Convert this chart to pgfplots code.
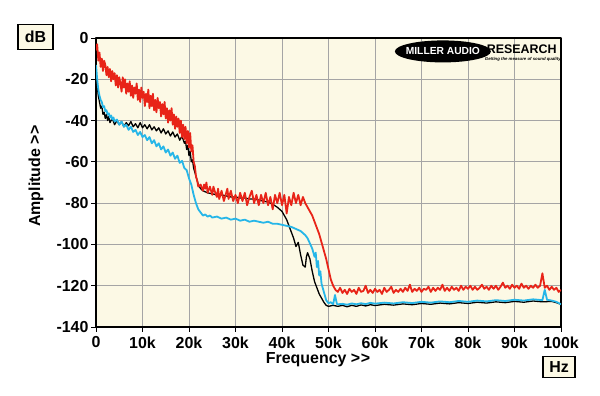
\documentclass[border=0pt]{standalone}
\usepackage{fontspec}
\setmainfont{Liberation Sans}
\usepackage{pgfplots}
\pgfplotsset{compat=1.18}
\definecolor{cream}{RGB}{252,249,229}
\definecolor{mred}{RGB}{232,36,24}
\definecolor{mblue}{RGB}{38,182,232}
\definecolor{gridc}{RGB}{165,165,165}
\newcommand{\lf}{\fontsize{16}{18}\selectfont\bfseries}
\newcommand{\twogt}{>\kern0.6bp>}
\begin{document}
\begin{tikzpicture}
\useasboundingbox (0,0) rectangle (600bp,396bp);
\begin{axis}[
  at={(96bp,69bp)}, anchor=south west,
  scale only axis, width=465bp, height=289bp,
  xmin=0, xmax=100, ymin=-140, ymax=0,
  xtick={0,10,...,100},
  xticklabels={0,10k,20k,30k,40k,50k,60k,70k,80k,90k,100k},
  ytick={-140,-120,...,0},
  yticklabels={-140,-120,-100,-80,-60,-40,-20,0},
  tick label style={font=\lf},
  xticklabel style={yshift=-1bp},
  yticklabel style={xshift=1bp},
  tick align=outside, major tick length=5bp,
  tick style={black, line width=0.8bp},
  xtick pos=bottom, ytick pos=left,
  grid=major, major grid style={gridc, line width=0.9bp},
  axis background/.style={fill=cream},
  axis line style={black, line width=1.6bp},
  line join=round,
]
\addplot[black, line width=1.3bp] coordinates {
(0,-18) (0.25,-23) (0.5,-28) (0.75,-31) (1,-34) (1.25,-33) (1.5,-37) (1.75,-36) (2,-39) (2.25,-37) (2.5,-40) (2.75,-38) (3,-41) (3.5,-39) (4,-42) (4.5,-40) (5,-42) (5.5,-40.5) (6,-43) (6.5,-41) (7,-42.5) (7.5,-40.5) (8,-43) (8.5,-41.5) (9,-43.5) (9.5,-41) (10,-43.5) (10.5,-42) (11,-44) (11.5,-42) (12,-44.5) (12.5,-43) (13,-45) (13.5,-43.5) (14,-46) (14.5,-44) (15,-46.5) (15.5,-45) (16,-47.5) (16.5,-45.5) (17,-48) (17.5,-46.5) (18,-49.5) (18.5,-47.5) (19,-51) (19.25,-50) (19.5,-54) (19.75,-52) (20,-57) (20.25,-55) (20.5,-60) (20.75,-59) (21,-63) (21.5,-67) (22,-71) (22.5,-73) (23,-74) (24,-75) (25,-75.5) (26,-76) (27,-76) (28,-76.5) (29,-77) (30,-77) (31,-77.5) (32,-77.5) (33,-78) (34,-78) (35,-78.5) (36,-79) (37,-79.5) (38,-80.5) (39,-82) (40,-84) (40.5,-86) (41,-88) (41.5,-91) (42,-94) (42.5,-97) (43,-101) (43.5,-99) (44,-105) (44.5,-110) (45,-111) (45.25,-106) (45.5,-104) (46,-107) (46.5,-113) (47,-118) (47.5,-121) (48,-124) (48.5,-126) (49,-128) (49.5,-129.5) (50,-130)
(51,-129.5) (52,-130) (53,-129.5) (54,-130.2) (55,-129.5) (56,-130) (57,-129.3) (58,-129.8) (59,-129.2) (60,-129.6) (62,-129) (64,-129.4) (66,-128.8) (68,-129.2) (70,-128.6) (72,-129) (74,-128.4) (76,-128.8) (78,-128.2) (80,-128.6) (82,-128) (84,-128.4) (86,-127.8) (88,-128.2) (90,-127.6) (92,-128) (94,-127.4) (96,-127.8) (98,-127.6) (99,-128.2) (100,-129)
};
\addplot[mblue, line width=1.8bp] coordinates {
(0,-13) (0.25,-20) (0.5,-25) (0.75,-28) (1,-30) (1.25,-31) (1.5,-33.5) (1.75,-33) (2,-35.5) (2.25,-35) (2.5,-37) (2.75,-36.5) (3,-38.5) (3.25,-37.5) (3.5,-39.5) (3.75,-38.5) (4,-40.5) (4.5,-39.5) (5,-42) (5.5,-40.5) (6,-43) (6.5,-42) (7,-44.5) (7.5,-43) (8,-45.5) (8.5,-44.5) (9,-47) (9.5,-45.5) (10,-48) (10.5,-47) (11,-49.5) (11.5,-48) (12,-51) (12.5,-49.5) (13,-52.5) (13.5,-51) (14,-54) (14.5,-52.5) (15,-55.5) (15.5,-54) (16,-57) (16.5,-55.5) (17,-58.5) (17.5,-57) (18,-60.5) (18.5,-59.5) (19,-63) (19.5,-64) (20,-68) (20.5,-71) (21,-76) (21.5,-80) (22,-83) (22.5,-84.5) (23,-86) (23.5,-85.5) (24,-86.5) (24.5,-86) (25,-87) (26,-86.5) (27,-87.5) (28,-87) (29,-88) (30,-87.5) (31,-88.5) (32,-88) (33,-89) (34,-88.5) (35,-89) (36,-89.5) (37,-89) (38,-90) (39,-90) (40,-90.5) (41,-91) (42,-91.5) (43,-92.5) (44,-93.5) (45,-95.5) (45.5,-97) (46,-99.5) (46.5,-102) (47,-106) (47.25,-104) (47.5,-111) (47.75,-108) (48,-115) (48.25,-113) (48.5,-119) (49,-123) (49.5,-127) (50,-128.5) (50.5,-128) (51,-129) (51.4,-124.5) (51.8,-128.8) (52,-129) (53,-128.8) (54,-129.2) (55,-128.6) (56,-129) (57,-128.5) (58,-128.9) (59,-128.3) (60,-128.7) (62,-128.2) (64,-128.6) (66,-128) (68,-128.4) (70,-127.8) (72,-128.2) (74,-127.6) (76,-128) (78,-127.4) (80,-127.8) (82,-127.2) (84,-127.6) (86,-127) (88,-127.4) (90,-126.8) (92,-127.2) (94,-126.6) (96,-127) (96.5,-122) (97,-126.8) (98,-127.2) (99,-127.8) (100,-129)
};
\addplot[mred, line width=1.8bp] coordinates {
(0,-6) (0.25,-3) (0.5,-11) (0.75,-7) (1,-14) (1.25,-10) (1.5,-16) (1.75,-11) (2,-13) (2.25,-18) (2.5,-14) (2.75,-19) (3,-15) (3.25,-21) (3.5,-16) (3.75,-20) (4,-17) (4.25,-23) (4.5,-18) (4.75,-24) (5,-19) (5.25,-22) (5.5,-26) (5.75,-19) (6,-24) (6.25,-20) (6.5,-27) (6.75,-22) (7,-26) (7.25,-21) (7.5,-28) (7.75,-23) (8,-29) (8.25,-24) (8.5,-27) (8.75,-22) (9,-30) (9.25,-25) (9.5,-31) (9.75,-24) (10,-29) (10.25,-26) (10.5,-33) (10.75,-27) (11,-31) (11.25,-25) (11.5,-34) (11.75,-28) (12,-33) (12.25,-27) (12.5,-35) (12.75,-30) (13,-36) (13.25,-29) (13.5,-34) (13.75,-31) (14,-38) (14.25,-32) (14.5,-37) (14.75,-31) (15,-39) (15.25,-34) (15.5,-41) (15.75,-35) (16,-40) (16.25,-34) (16.5,-42) (16.75,-37) (17,-44) (17.25,-38) (17.5,-43) (17.75,-39) (18,-46) (18.25,-40) (18.5,-48) (18.75,-42) (19,-49) (19.25,-43) (19.5,-51) (19.75,-45) (20,-53) (20.25,-46) (20.5,-55) (20.75,-52) (21,-60) (21.25,-62) (21.5,-67) (21.75,-69) (22,-72) (22.5,-71)
(23,-74) (23.25,-71) (23.5,-73) (23.75,-70) (24,-75) (24.5,-72) (25,-76) (25.25,-72) (25.5,-74) (26,-77) (26.25,-73) (26.5,-78) (27,-74) (27.5,-79) (28,-75) (28.25,-73) (28.5,-78) (29,-74) (29.5,-79) (30,-76) (30.5,-80) (31,-75) (31.25,-77) (31.5,-79) (32,-75) (32.5,-81) (33,-77) (33.5,-74) (34,-80) (34.5,-76) (35,-81) (35.5,-76) (36,-80) (36.5,-75) (37,-81) (37.5,-77) (38,-83) (38.5,-76) (39,-80) (39.5,-75) (40,-81) (40.5,-76) (41,-85) (41.5,-77) (42,-81) (42.5,-75) (43,-80) (43.5,-76) (44,-81) (44.5,-77) (45,-80)
(45.5,-82) (46,-84) (46.5,-86) (47,-89) (47.5,-92) (48,-95) (48.5,-99) (49,-103) (49.5,-107) (50,-112) (50.5,-117) (51,-120) (51.5,-122)
(52,-123) (52.5,-121) (53,-123.5) (53.5,-122) (54,-124) (54.5,-121.5) (55,-123) (55.5,-122) (56,-124) (56.5,-121) (57,-123) (57.5,-122.5) (58,-120) (58.5,-123.5) (59,-122) (59.5,-123.5) (60,-121.5) (60.5,-123) (61,-122) (61.5,-124) (62,-121) (62.5,-123) (63,-122) (63.5,-120.5) (64,-123.5) (64.5,-122) (65,-123) (65.5,-121.5) (66,-123) (66.5,-121) (67,-122.5) (67.5,-119.5) (68,-123) (68.5,-121.5) (69,-122.5) (69.5,-121) (70,-123) (70.5,-121.5) (71,-122) (71.5,-120.5) (72,-123) (72.5,-121) (73,-122.5) (73.5,-121) (74,-122) (74.5,-119.5) (75,-122.5) (75.5,-121) (76,-122.5) (76.5,-120.5) (77,-122) (77.5,-121) (78,-122.5) (78.5,-120) (79,-122) (79.5,-120.5) (80,-121.5) (80.5,-120) (81,-122) (81.5,-120.5) (82,-122) (82.5,-121) (83,-119.5) (83.5,-121.5) (84,-120.5) (84.5,-122) (85,-120) (85.5,-121.5) (86,-120) (86.5,-122) (87,-120.5) (87.5,-118.5) (88,-121) (88.5,-120) (89,-121.5) (89.5,-119.5) (90,-121) (90.5,-120) (91,-121.5) (91.5,-119) (92,-121) (92.5,-120) (93,-121.5) (93.5,-120) (94,-121) (94.5,-119.5) (95,-121) (95.5,-120) (96,-114) (96.5,-121) (97,-120) (97.5,-122) (98,-120.5) (98.5,-122) (99,-121) (99.5,-123) (100,-122)
};
% logo
\fill[black] (axis cs:74.6,-6.5) ellipse [x radius=48bp, y radius=11bp];
\node[white, font=\fontsize{10.3}{11}\selectfont\bfseries, inner sep=0pt] at (axis cs:74.6,-6.5) {MILLER AUDIO};
\node[black, font=\fontsize{12.5}{13}\selectfont\bfseries, inner sep=0pt, anchor=west] at (axis cs:84.0,-5.5) {RESEARCH};
\node[black, font=\fontsize{4.3}{5}\selectfont\bfseries\itshape, inner sep=0pt, anchor=west] at (axis cs:83.6,-10.4) {Getting the measure of sound quality};
\end{axis}
\node[font=\fontsize{16}{18}\selectfont\bfseries, anchor=base] at (318bp,33bp) {Frequency \twogt};
\node[font=\fontsize{16}{18}\selectfont\bfseries, rotate=90] at (36bp,220bp) {Amplitude \twogt};
\node[draw=black, line width=1.2bp, fill=cream, minimum width=35bp, minimum height=25bp, inner sep=0pt, font=\fontsize{16}{18}\selectfont\bfseries] at (35.5bp,359bp) {dB};
\node[draw=black, line width=1.2bp, fill=cream, minimum width=32bp, minimum height=21bp, inner sep=0pt, font=\fontsize{16}{18}\selectfont\bfseries] at (559bp,29bp) {Hz};
\end{tikzpicture}
\end{document}
